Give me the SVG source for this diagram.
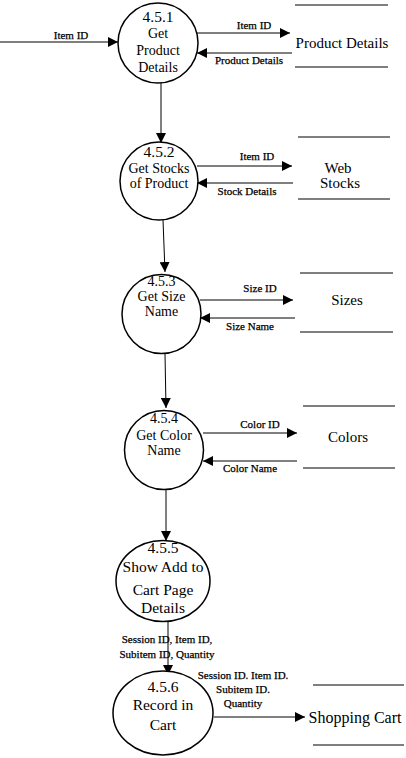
<svg xmlns="http://www.w3.org/2000/svg" width="406" height="758" viewBox="0 0 406 758">
  <defs>
    <marker id="arrow" viewBox="0 0 10 10" refX="10" refY="5" markerWidth="10" markerHeight="10" markerUnits="userSpaceOnUse" orient="auto">
      <path d="M0,0 L10,5 L0,10 Z" fill="#000"/>
    </marker>
    <style>
      .proc { fill: #fff; stroke: #000; stroke-width: 1.5; }
      .store { stroke: #000; stroke-width: 1.2; }
      .flow { stroke: #000; stroke-width: 1; fill: none; marker-end: url(#arrow); }
      text { font-family: "Liberation Serif", "Times New Roman", serif; fill: #000; text-anchor: middle; }
      .pt { font-size: 14px; }
      .pt2 { font-size: 15.5px; }
      .lbl { font-size: 11px; stroke: #000; stroke-width: 0.25; }
      .st { font-size: 15px; }
    </style>
  </defs>

  <!-- data flows -->
  <g id="connectors">
    <line class="flow" x1="0" y1="42" x2="118" y2="42"/>
    <text class="lbl" x="71" y="39">Item ID</text>

    <line class="flow" x1="197" y1="33" x2="290" y2="33"/>
    <text class="lbl" x="254" y="29">Item ID</text>
    <line class="flow" x1="292" y1="53" x2="197" y2="53"/>
    <text class="lbl" x="249" y="64">Product Details</text>

    <line class="flow" x1="161" y1="83" x2="161" y2="143"/>

    <line class="flow" x1="197" y1="166" x2="292" y2="166"/>
    <text class="lbl" x="257" y="160">Item ID</text>
    <line class="flow" x1="293" y1="183" x2="197" y2="183"/>
    <text class="lbl" x="247" y="195">Stock Details</text>

    <line class="flow" x1="163" y1="220" x2="165" y2="272"/>

    <line class="flow" x1="200" y1="300" x2="293" y2="300"/>
    <text class="lbl" x="260" y="292">Size ID</text>
    <line class="flow" x1="295" y1="318" x2="200" y2="318"/>
    <text class="lbl" x="250" y="330">Size Name</text>

    <line class="flow" x1="165" y1="354" x2="166" y2="408"/>

    <line class="flow" x1="203" y1="433" x2="297" y2="433"/>
    <text class="lbl" x="260" y="428">Color ID</text>
    <line class="flow" x1="297" y1="461" x2="203" y2="461"/>
    <text class="lbl" x="250" y="472">Color Name</text>

    <line class="flow" x1="166" y1="490" x2="166" y2="541"/>

    <line class="flow" x1="168" y1="622" x2="168" y2="675"/>
    <text class="lbl" x="167" y="643">Session ID, Item ID,</text>
    <text class="lbl" x="167" y="658">Subitem ID, Quantity</text>

    <line class="flow" x1="214" y1="717" x2="305" y2="717"/>
    <text class="lbl" x="243" y="679">Session ID. Item ID.</text>
    <text class="lbl" x="243" y="693">Subitem ID.</text>
    <text class="lbl" x="243" y="707">Quantity</text>
  </g>

  <!-- processes -->
  <g id="p451">
    <circle class="proc" cx="158" cy="43" r="40"/>
    <text class="pt2" x="158" y="22">4.5.1</text>
    <text class="pt" x="158" y="38">Get</text>
    <text class="pt" x="158" y="55">Product</text>
    <text class="pt" x="158" y="72">Details</text>
  </g>
  <g id="p452">
    <circle class="proc" cx="159" cy="181" r="39"/>
    <text class="pt2" x="159" y="157">4.5.2</text>
    <text class="pt" x="159" y="173">Get Stocks</text>
    <text class="pt" x="159" y="188">of Product</text>
  </g>
  <g id="p453">
    <circle class="proc" cx="161.5" cy="314" r="39.5"/>
    <text class="pt" x="161.5" y="286">4.5.3</text>
    <text class="pt" x="161.5" y="301">Get Size</text>
    <text class="pt" x="161.5" y="316">Name</text>
  </g>
  <g id="p454">
    <circle class="proc" cx="164" cy="450" r="39.5"/>
    <text class="pt" x="164" y="423">4.5.4</text>
    <text class="pt" x="164" y="440">Get Color</text>
    <text class="pt" x="164" y="455">Name</text>
  </g>
  <g id="p455">
    <ellipse class="proc" cx="163" cy="581" rx="47" ry="40.5"/>
    <text class="pt2" x="163" y="553">4.5.5</text>
    <text class="pt2" x="163" y="572">Show Add to</text>
    <text class="pt2" x="163" y="595">Cart Page</text>
    <text class="pt2" x="163" y="613">Details</text>
  </g>
  <g id="p456">
    <ellipse class="proc" cx="163" cy="713" rx="50" ry="42"/>
    <text class="pt2" x="163" y="692">4.5.6</text>
    <text class="pt2" x="163" y="710">Record in</text>
    <text class="pt2" x="163" y="730">Cart</text>
  </g>

  <!-- data stores -->
  <g id="ds-product-details">
    <line class="store" x1="295" y1="5" x2="388" y2="5"/>
    <line class="store" x1="295" y1="67" x2="388" y2="67"/>
    <text class="st" x="342" y="48">Product Details</text>
  </g>
  <g id="ds-web-stocks">
    <line class="store" x1="298" y1="137" x2="390" y2="137"/>
    <line class="store" x1="298" y1="199" x2="390" y2="199"/>
    <text class="st" x="338" y="173">Web</text>
    <text class="st" x="340" y="188">Stocks</text>
  </g>
  <g id="ds-sizes">
    <line class="store" x1="300" y1="273" x2="393" y2="273"/>
    <line class="store" x1="300" y1="332" x2="393" y2="332"/>
    <text class="st" x="347" y="305">Sizes</text>
  </g>
  <g id="ds-colors">
    <line class="store" x1="303" y1="406" x2="395" y2="406"/>
    <line class="store" x1="303" y1="468" x2="395" y2="468"/>
    <text class="st" x="348" y="442">Colors</text>
  </g>
  <g id="ds-shopping-cart">
    <line class="store" x1="313" y1="685" x2="404" y2="685"/>
    <line class="store" x1="313" y1="745" x2="404" y2="745"/>
    <text class="st" x="355" y="723" style="font-size:16px">Shopping Cart</text>
  </g>
</svg>
